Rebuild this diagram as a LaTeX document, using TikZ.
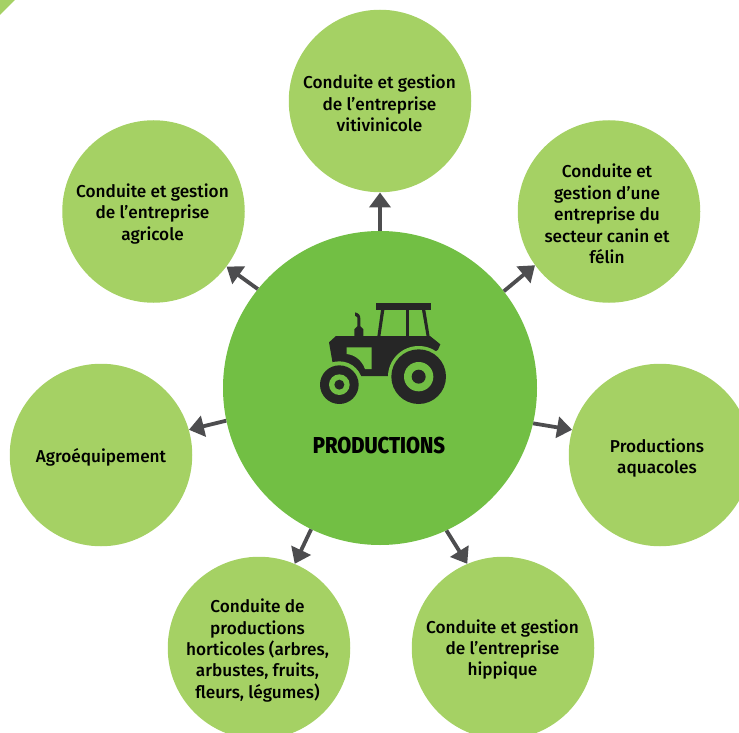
\documentclass[tikz,border=0pt]{standalone}
\usepackage{fontspec}
\setmainfont{Fira Sans Medium}[BoldFont={Fira Sans ExtraBold},BoldFeatures={FakeStretch=0.88}]
\usetikzlibrary{arrows.meta}
\definecolor{lightg}{HTML}{A5D164}
\definecolor{hubg}{HTML}{72BF44}
\definecolor{arrowc}{HTML}{4D4D4F}
\definecolor{tractor}{HTML}{262626}
\tikzset{
  topic/.style={circle,fill=lightg,minimum size=182.5pt,inner sep=0pt,align=center,font=\fontsize{17.2}{21.4}\selectfont,text=black},
  hubc/.style={circle,fill=hubg,minimum size=314pt,inner sep=0pt},
  link/.style={draw=arrowc,line width=3.8pt,-{Triangle[length=15pt,width=21pt]}},
  trac/.style={fill=tractor},
  gap/.style={fill=hubg},
  lbl/.style={align=center,font=\fontsize{17.2}{21.4}\selectfont,text=black}
}
\begin{document}
\begin{tikzpicture}[x=1pt,y=-1pt]
\path[use as bounding box,clip] (0,0) rectangle (739,733);
\fill[lightg] (0,0) -- (15,0) -- (0,15) -- cycle;
\node[hubc] (hub) at (380,388) {};
\node[topic] (vit) at (380,101) {};
\node[topic] (agr) at (153.5,211.5) {};
\node[topic] (can) at (609,211.5) {};
\node[topic] (equ) at (101,455) {};
\node[topic] (aqu) at (660,455) {};
\node[topic] (hor) at (259,648) {};
\node[topic] (hip) at (503,648) {};
\node[lbl] (tvit) at (379.5,103.5) {Conduite et gestion\\de l’entreprise\\vitivinicole};
\node[lbl] (tagr) at (152.5,214) {Conduite et gestion\\de l’entreprise\\agricole};
\node[lbl] (tcan) at (607,214) {Conduite et\\gestion d’une\\entreprise du\\secteur canin et\\félin};
\node[lbl] (tequ) at (101,457) {Agroéquipement};
\node[lbl] (taqu) at (657,458) {Productions\\aquacoles};
\node[lbl] (thor) at (257.5,650.5) {Conduite de\\productions\\horticoles (arbres,\\arbustes, fruits,\\fleurs, légumes)};
\node[lbl] (thip) at (502.5,649.5) {Conduite et gestion\\de l’entreprise\\hippique};
\node[font=\bfseries\fontsize{23}{24}\selectfont,text=black] (lab) at (379,446) {PRODUCTIONS};
\draw[link] (hub.90) -- (vit.270);
\draw[link] (hub.141.2) -- (agr.323.4);
\draw[link] (hub.38.8) -- (can.216.3);
\draw[link] (hub.192.2) -- (equ.16.5);
\draw[link] (hub.347.8) -- (aqu.164.9);
\draw[link] (hub.244.7) -- (hor.67.4);
\draw[link] (hub.295.3) -- (hip.113.4);
\begin{scope}[shift={(300,280)},x=0.33333pt,y=-0.33333pt]
\fill[trac] (228,68) rectangle (392,90);
\fill[trac] (243,90) -- (253,90) -- (241,170) -- (232,170) -- cycle;
\fill[trac] (318,90) rectangle (328,170);
\fill[trac] (366,90) -- (376,90) -- (389,170) -- (380,170) -- cycle;
\fill[trac] (163,170) -- (163,148) -- (172,139) -- (172,112) -- (165,107) -- (165,97) .. controls (175,99) and (181,105) .. (181,115) -- (181,139) -- (190,148) -- (190,170) -- cycle;
\fill[trac] (108,168) -- (390,168) -- (421,193) -- (414,209) -- (356,250) -- (265,288) -- (183,288) -- (118,300) -- (97,244) -- (87,187) -- cycle;
\fill[gap] (140,202) -- (215,202) -- (215,267) -- (195,267) .. controls (185,240) and (165,225) .. (140,222) -- cycle;
\fill[gap] (356,290) circle[radius=92];
\fill[gap] (118,314) circle[radius=70];
\fill[trac] (356,290) circle[radius=82];
\fill[gap] (356,290) circle[radius=44];
\fill[trac] (356,290) circle[radius=21];
\fill[trac] (118,314) circle[radius=58];
\fill[gap] (118,314) circle[radius=31];
\fill[trac] (118,314) circle[radius=15];
\end{scope}
\end{tikzpicture}
\end{document}
